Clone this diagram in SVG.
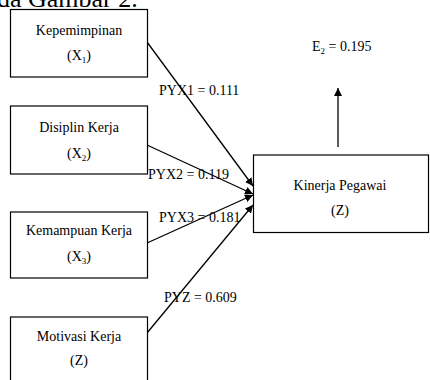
<svg xmlns="http://www.w3.org/2000/svg" width="430" height="380" viewBox="0 0 430 380">
<style>
.box{fill:#fff;stroke:#000;stroke-width:1.2}
.t{font-family:"Liberation Serif","Times New Roman",serif;font-size:14px;fill:#000;text-anchor:middle}
.l{font-family:"Liberation Serif","Times New Roman",serif;font-size:14px;fill:#000}
.sub{font-size:9px}
.c{stroke:#000;stroke-width:1.3;fill:none}
</style>
<defs>
<marker id="ah" viewBox="0 0 10 10" refX="10" refY="5" markerWidth="8" markerHeight="8" orient="auto" markerUnits="userSpaceOnUse">
<path d="M0,0 L10,5 L0,10 z" fill="#000"/>
</marker>
</defs>
<rect width="430" height="380" fill="#fff"/>
<text x="-3" y="7" style="font-family:'Liberation Serif','Times New Roman',serif;font-size:26px">da Gambar 2.</text>

<g id="connectors">
<line class="c" x1="147" y1="42" x2="253" y2="186" marker-end="url(#ah)"/>
<line class="c" x1="147" y1="145" x2="253" y2="194" marker-end="url(#ah)"/>
<line class="c" x1="147" y1="243" x2="253" y2="195" marker-end="url(#ah)"/>
<line class="c" x1="147" y1="333" x2="253" y2="205" marker-end="url(#ah)"/>
<line class="c" x1="338" y1="147" x2="338" y2="88" marker-end="url(#ah)"/>
</g>

<g id="x1">
<rect class="box" x="10.5" y="9.5" width="137" height="67.5"/>
<text class="t" x="79" y="35">Kepemimpinan</text>
<text class="t" x="79" y="60">(X<tspan class="sub" dy="3">1</tspan><tspan dy="-3">)</tspan></text>
</g>
<g id="x2">
<rect class="box" x="10.5" y="106" width="137" height="68"/>
<text class="t" x="79" y="132">Disiplin Kerja</text>
<text class="t" x="79" y="158">(X<tspan class="sub" dy="3">2</tspan><tspan dy="-3">)</tspan></text>
</g>
<g id="x3">
<rect class="box" x="10.5" y="212" width="137" height="66"/>
<text class="t" x="79" y="235">Kemampuan Kerja</text>
<text class="t" x="79" y="261">(X<tspan class="sub" dy="3">3</tspan><tspan dy="-3">)</tspan></text>
</g>
<g id="z-motivasi">
<rect class="box" x="10.5" y="317" width="137" height="70"/>
<text class="t" x="79" y="341">Motivasi Kerja</text>
<text class="t" x="79" y="365">(Z)</text>
</g>
<g id="kinerja">
<rect class="box" x="253.5" y="155" width="175" height="77.5"/>
<text class="t" x="340" y="190">Kinerja Pegawai</text>
<text class="t" x="340" y="215">(Z)</text>
</g>

<g id="labels">
<text class="l" x="312" y="51">E<tspan class="sub" dy="3">2</tspan><tspan dy="-3"> = 0.195</tspan></text>
<text class="l" x="159" y="95">PYX1 = 0.111</text>
<text class="l" x="148" y="179">PYX2 = 0.119</text>
<text class="l" x="159" y="222">PYX3 = 0.181</text>
<text class="l" x="164" y="302">PYZ = 0.609</text>
</g>
</svg>
